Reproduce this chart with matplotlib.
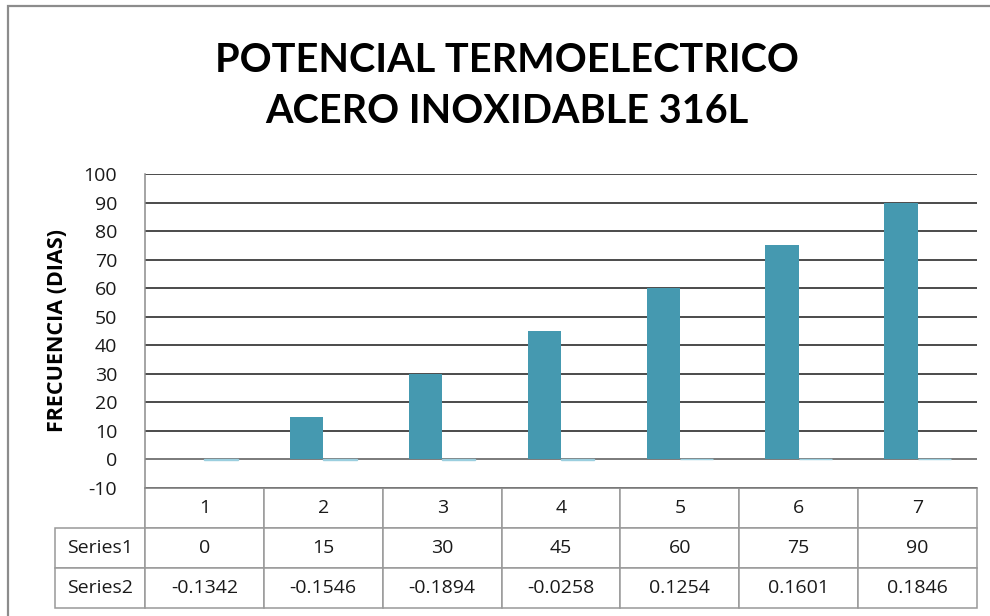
import matplotlib.pyplot as plt
import numpy as np
from matplotlib.patches import Rectangle

plt.rcParams['font.family'] = ['Open Sans', 'DejaVu Sans']

categories = ['1', '2', '3', '4', '5', '6', '7']
series1 = [0, 15, 30, 45, 60, 75, 90]
series2 = [-0.1342, -0.1546, -0.1894, -0.0258, 0.1254, 0.1601, 0.1846]
series1_txt = ['0', '15', '30', '45', '60', '75', '90']
series2_txt = ['-0.1342', '-0.1546', '-0.1894', '-0.0258', '0.1254', '0.1601', '0.1846']
yticks = list(range(-10, 101, 10))

C1 = '#4599B0'
C2 = '#9BCFDF'

fig = plt.figure(figsize=(9.9, 6.16), dpi=100)
fig.patches.append(Rectangle((8/990, -0.1), 1.2, 1 - 6/616 + 0.1, transform=fig.transFigure,
                             fill=False, edgecolor='#8c8c8c', linewidth=1.6))

ax = fig.add_axes([145/990, 1 - 488/616, (977-145)/990, (488-174)/616])
x = np.arange(len(categories))
w = 0.28
ax.bar(x - w/2, series1, w, color=C1, zorder=3)
ax.bar(x + w/2, series2, w, color=C2, edgecolor=C2, linewidth=1.0, zorder=3)

ax.set_xlim(-0.5, len(categories) - 0.5)
ax.set_ylim(-10, 100)
ax.set_yticks(yticks)
ax.set_yticklabels([str(t) for t in yticks], fontsize=14, color='#1a1a1a')
ax.tick_params(axis='y', length=0, pad=20)
ax.set_xticks([])
ax.set_axisbelow(True)
ax.grid(axis='y', color='#1a1a1a', linewidth=1.1)
ax.axhline(0, color='#8c8c8c', linewidth=1.1, zorder=2)
for s in ['top', 'right']:
    ax.spines[s].set_visible(False)
for s in ['left', 'bottom']:
    ax.spines[s].set_color('#8c8c8c')
    ax.spines[s].set_linewidth(1.1)

ax.set_ylabel('FRECUENCIA (DIAS)', fontsize=15.5, fontweight='bold', labelpad=11)

fig.text(507/990, 1 - 86/616, 'POTENCIAL TERMOELECTRICO\nACERO INOXIDABLE 316L',
         ha='center', va='center', fontsize=28.5, fontweight='bold', linespacing=1.45,
         family=['Lato', 'DejaVu Sans'])

# data table below the plot
lab_w = 90 / 832
rows = [[''] + categories, ['Series1'] + series1_txt, ['Series2'] + series2_txt]
tab = ax.table(cellText=rows, colWidths=[lab_w] + [1/7]*7, cellLoc='center',
               bbox=[-lab_w, -120/314, 1 + lab_w, 120/314])
tab.auto_set_font_size(False)
tab.set_fontsize(14)
for (r, c), cell in tab.get_celld().items():
    cell.set_edgecolor('#999999')
    cell.set_linewidth(1.1)
    cell.get_text().set_color('#1a1a1a')
    if c == 0:
        cell._loc = 'left'
        cell.PAD = 0.05
    if r == 0 and c == 0:
        cell.visible_edges = 'R'

fig.savefig('out.png', dpi=100)
